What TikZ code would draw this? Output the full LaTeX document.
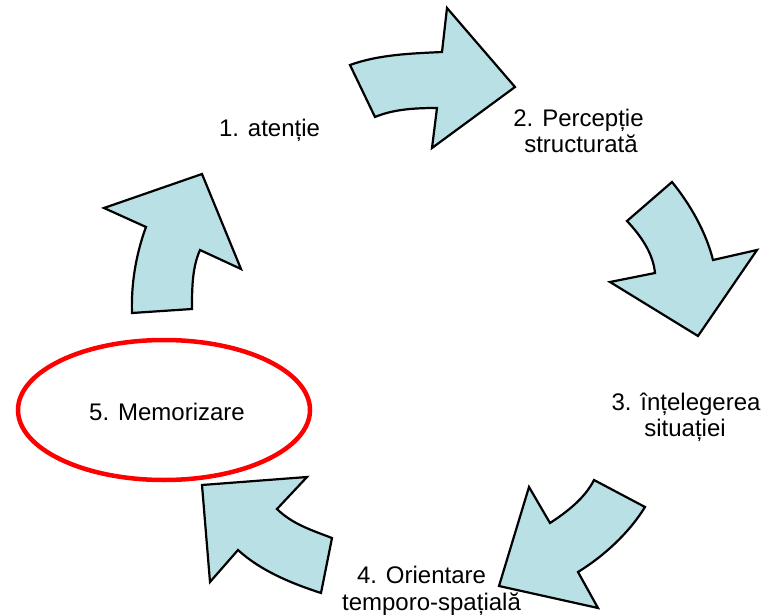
\documentclass[tikz,border=0pt]{standalone}
\usepackage{fontspec}
\setmainfont{Liberation Sans}
\usetikzlibrary{shapes.geometric}
\definecolor{arrowfill}{RGB}{185,224,228}
\tikzset{
  blockarrow/.style={fill=arrowfill,draw=black,line width=2.2pt,line join=miter},
  lbl/.style={anchor=base,inner sep=0pt,font=\fontsize{24}{27}\selectfont},
  memo/.style={ellipse,draw=red,line width=4.5pt,minimum width=292pt,minimum height=140pt,inner sep=0pt,font=\fontsize{24}{27}\selectfont}
}
\begin{document}
\begin{tikzpicture}[x=1pt,y=-1pt]
\useasboundingbox (0,0) rectangle (769,615);
% block arrows
\draw[blockarrow] (350,65) .. controls (379,54.5) and (411,53.5) .. (442,52) -- (447,8) -- (515,87) -- (432,148) -- (437,108) .. controls (416,108) and (394,109) .. (375,117) -- cycle;
\draw[blockarrow] (627,221) -- (672,182) .. controls (690,204) and (706,232) .. (713,260) -- (757,250) -- (698,336) -- (610,282) -- (655,273) .. controls (653,253) and (641,236) .. (627,221) -- cycle;
\draw[blockarrow] (594,480) -- (645,507) .. controls (629,533) and (604,556) .. (578,572) -- (598,608) -- (499,586) -- (529,487) -- (550,523) .. controls (567,512) and (585,498) .. (594,480) -- cycle;
\draw[blockarrow] (202,485) -- (307,477) -- (277,509) .. controls (292,524) and (312.5,530.5) .. (332,538) -- (321,593) .. controls (291.5,583.4) and (261,571) .. (238,550) -- (210,582) -- cycle;
\draw[blockarrow] (132,313) -- (192,309) .. controls (192,289) and (192,268) .. (200,250) -- (241,269) -- (202,174) -- (104,208) -- (146,227) .. controls (136,254) and (131,284) .. (132,313) -- cycle;
% labels
\node[lbl] (l1) at (269.5,137) {1. atenție};
\node[lbl] (l2a) at (578.5,127) {2. Percepție};
\node[lbl] (l2b) at (581,153) {structurată};
\node[lbl] (l3a) at (686,410) {3. înțelegerea};
\node[lbl] (l3b) at (685,436) {situației};
\node[lbl] (l4a) at (421.5,583) {4. Orientare};
\node[lbl] (l4b) at (431.5,610) {temporo-spațială};
\node[memo] (l5) at (164,410) {};
\node[lbl] (l5t) at (167,420) {5. Memorizare};
\end{tikzpicture}
\end{document}
